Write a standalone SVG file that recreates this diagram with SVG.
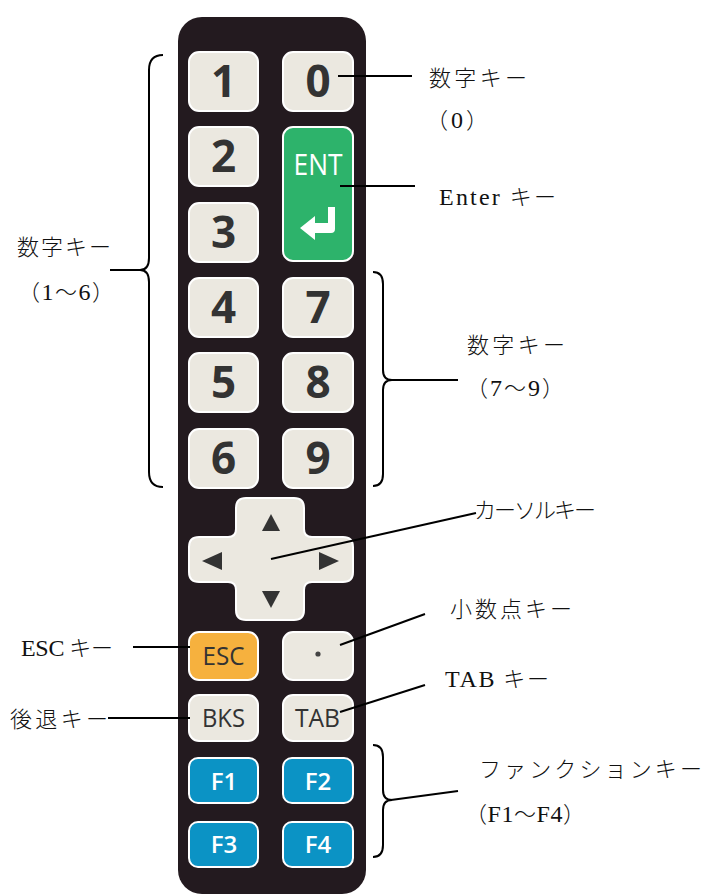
<svg xmlns="http://www.w3.org/2000/svg" width="707" height="895" viewBox="0 0 707 895">
<style>
.key{fill:#ebe8e0;stroke:#ffffff;stroke-width:2}
.num{font-family:"Open Sans","DejaVu Sans",sans-serif;font-weight:700;font-size:44px;fill:#333333;text-anchor:middle}
.kt{font-family:"Open Sans","DejaVu Sans",sans-serif;font-size:25px;fill:#333333;text-anchor:middle}
.ft{font-family:"Open Sans","DejaVu Sans",sans-serif;font-weight:600;font-size:24px;fill:#ffffff;text-anchor:middle}
.fk{fill:#0b93c5;stroke:#ffffff;stroke-width:2}
.lbl{font-family:"Liberation Serif","Noto Sans CJK JP",serif;font-size:22px;font-weight:300;fill:#111111}
.la{font-size:24px;font-weight:400}
.ln{stroke:#000;stroke-width:2;fill:none}
.tri{fill:#333333}
</style>
<rect id="panel" x="178" y="17" width="188" height="877" rx="24" fill="#231a1f"/>
<g id="key1"><rect class="key" x="189" y="52" width="69" height="59" rx="10"/><text class="num" x="223.5" y="97">1</text></g>
<g id="key0"><rect class="key" x="283" y="52" width="70" height="59" rx="10"/><text class="num" x="318" y="97">0</text></g>
<g id="key2"><rect class="key" x="189" y="127" width="69" height="59" rx="10"/><text class="num" x="223.5" y="172">2</text></g>
<g id="key3"><rect class="key" x="189" y="203" width="69" height="59" rx="10"/><text class="num" x="223.5" y="248">3</text></g>
<g id="keyENT"><rect x="283" y="127" width="70" height="134" rx="10" fill="#2db36b" stroke="#ffffff" stroke-width="2"/>
<text x="318" y="175" font-family="'Open Sans','DejaVu Sans',sans-serif" font-size="29" fill="#ffffff" text-anchor="middle" textLength="49" lengthAdjust="spacingAndGlyphs">ENT</text>
<path d="M300,228 L315,216 L315,223 L328,223 L328,207 L335,207 L335,229 Q335,233 331,233 L315,233 L315,240 Z" fill="#ffffff"/></g>
<g id="key4"><rect class="key" x="189" y="278" width="69" height="59" rx="10"/><text class="num" x="223.5" y="323">4</text></g>
<g id="key7"><rect class="key" x="283" y="278" width="70" height="59" rx="10"/><text class="num" x="318" y="323">7</text></g>
<g id="key5"><rect class="key" x="189" y="353" width="69" height="59" rx="10"/><text class="num" x="223.5" y="398">5</text></g>
<g id="key8"><rect class="key" x="283" y="353" width="70" height="59" rx="10"/><text class="num" x="318" y="398">8</text></g>
<g id="key6"><rect class="key" x="189" y="429" width="69" height="59" rx="10"/><text class="num" x="223.5" y="474">6</text></g>
<g id="key9"><rect class="key" x="283" y="429" width="70" height="59" rx="10"/><text class="num" x="318" y="474">9</text></g>
<g id="cursor">
<path class="key" d="M246,498 H294 Q304,498 304,508 V529 Q304,537 312,537 H343 Q353,537 353,547 V572 Q353,582 343,582 H312 Q304,582 304,590 V610 Q304,620 294,620 H246 Q236,620 236,610 V590 Q236,582 228,582 H199 Q189,582 189,572 V547 Q189,537 199,537 H228 Q236,537 236,529 V508 Q236,498 246,498 Z"/>
<polygon class="tri" points="271,514 280,531 262,531"/>
<polygon class="tri" points="271,608 280,591 262,591"/>
<polygon class="tri" points="202,561 222,552 222,570"/>
<polygon class="tri" points="339,561 319,552 319,570"/>
</g>
<g id="keyESC"><rect x="189" y="632" width="69" height="48" rx="10" fill="#f6b13e" stroke="#ffffff" stroke-width="2"/><text class="kt" x="223.5" y="665" textLength="42" lengthAdjust="spacingAndGlyphs">ESC</text></g>
<g id="keyDot"><rect class="key" x="283" y="632" width="70" height="48" rx="10"/><circle cx="318" cy="654" r="2.6" fill="#444"/></g>
<g id="keyBKS"><rect class="key" x="189" y="695" width="69" height="46" rx="10"/><text class="kt" x="223.5" y="727" textLength="43" lengthAdjust="spacingAndGlyphs">BKS</text></g>
<g id="keyTAB"><rect class="key" x="283" y="695" width="70" height="46" rx="10"/><text class="kt" x="317.5" y="727" textLength="45" lengthAdjust="spacingAndGlyphs">TAB</text></g>
<g id="keyF1"><rect class="fk" x="189" y="758" width="69" height="45" rx="9"/><text class="ft" x="224" y="790">F1</text></g>
<g id="keyF2"><rect class="fk" x="283" y="758" width="70" height="45" rx="9"/><text class="ft" x="318" y="790">F2</text></g>
<g id="keyF3"><rect class="fk" x="189" y="822" width="69" height="45" rx="9"/><text class="ft" x="224" y="853">F3</text></g>
<g id="keyF4"><rect class="fk" x="283" y="822" width="70" height="45" rx="9"/><text class="ft" x="318" y="853">F4</text></g>

<g id="connectors">
<line class="ln" x1="338" y1="76" x2="412" y2="76"/>
<line class="ln" x1="340" y1="186" x2="415" y2="186"/>
<path class="ln" d="M163,55 Q149,55 149,70 V258 Q149,270 140,270 Q149,270 149,282 V472 Q149,487 163,487"/>
<line class="ln" x1="110" y1="270" x2="141" y2="270"/>
<path class="ln" d="M373,272 Q383,272 383,284 V370 Q383,380 392,380 Q383,380 383,390 V474 Q383,486 373,486"/>
<line class="ln" x1="391" y1="380" x2="458" y2="380"/>
<line class="ln" x1="271" y1="559" x2="476" y2="513"/>
<line class="ln" x1="340" y1="645" x2="425" y2="614"/>
<line class="ln" x1="340" y1="712" x2="425" y2="685"/>
<line class="ln" x1="133" y1="647" x2="190" y2="647"/>
<line class="ln" x1="108" y1="718" x2="190" y2="718"/>
<path class="ln" d="M373,745 Q383,745 383,757 V790 Q383,800 392,800 Q383,800 383,810 V845 Q383,857 373,857"/>
<line class="ln" x1="391" y1="800" x2="458" y2="791"/>
</g>

<g id="labels">
<text class="lbl" x="429" y="86" textLength="98" lengthAdjust="spacing">数字キー</text>
<text class="lbl" x="426" y="128" textLength="62" lengthAdjust="spacing">（<tspan class="la">0</tspan>）</text>
<text class="lbl" x="439" y="205" textLength="117" lengthAdjust="spacing"><tspan class="la">Enter</tspan> キー</text>
<text class="lbl" x="17" y="255" textLength="94" lengthAdjust="spacing">数字キー</text>
<text class="lbl" x="18" y="300" textLength="96" lengthAdjust="spacing">（<tspan class="la">1</tspan>～<tspan class="la">6</tspan>）</text>
<text class="lbl" x="467" y="353" textLength="98" lengthAdjust="spacing">数字キー</text>
<text class="lbl" x="466" y="396" textLength="98" lengthAdjust="spacing">（<tspan class="la">7</tspan>～<tspan class="la">9</tspan>）</text>
<text class="lbl" x="474" y="518" font-size="20" textLength="122" lengthAdjust="spacing">カーソルキー</text>
<text class="lbl" x="450" y="617" textLength="122" lengthAdjust="spacing">小数点キー</text>
<text class="lbl" x="445" y="687" textLength="104" lengthAdjust="spacing"><tspan class="la">TAB</tspan> キー</text>
<text class="lbl" x="21" y="656" textLength="92" lengthAdjust="spacing"><tspan class="la">ESC</tspan> キー</text>
<text class="lbl" x="10" y="727" textLength="98" lengthAdjust="spacing">後退キー</text>
<text class="lbl" x="479" y="777" textLength="223" lengthAdjust="spacing">ファンクションキー</text>
<text class="lbl" x="465" y="822" textLength="120" lengthAdjust="spacing">（<tspan class="la">F1</tspan>～<tspan class="la">F4</tspan>）</text>
</g>
</svg>
